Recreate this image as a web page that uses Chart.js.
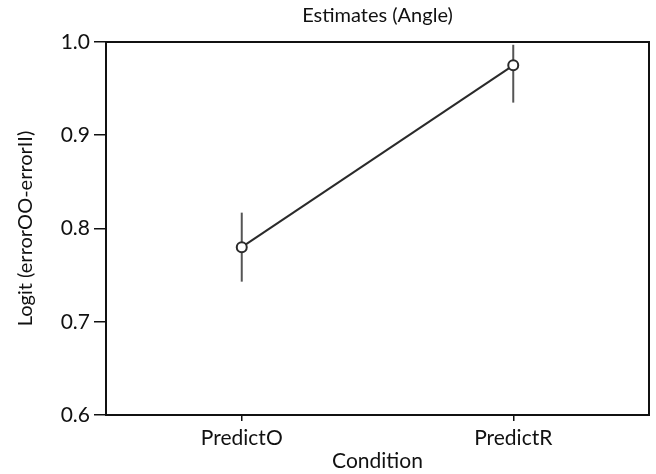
<!DOCTYPE html>
<html>
<head>
<meta charset="utf-8">
<script src="https://cdn.jsdelivr.net/npm/chart.js@4/dist/chart.umd.min.js"></script>
<style>
  html, body { margin: 0; padding: 0; background: #fff; }
  #wrap { width: 656px; height: 474px; }
</style>
</head>
<body>
<div id="wrap"><canvas id="chart" width="656" height="474"></canvas></div>
<script>
// data
const conditions = ['PredictO', 'PredictR'];
const estimates  = [0.780, 0.975];
const ciLow      = [0.743, 0.935];
const ciHigh     = [0.817, 0.997];
const yTicks     = [0.6, 0.7, 0.8, 0.9, 1.0];

const INK  = '#111';
const FONT = "Lato, 'Open Sans', sans-serif";

// box around the plot area (top + right sides too)
const frame = {
  id: 'frame',
  afterDatasetsDraw(chart) {
    const { ctx, chartArea: a } = chart;
    ctx.save();
    ctx.strokeStyle = INK;
    ctx.lineWidth = 2;
    ctx.strokeRect(a.left, a.top, a.right - a.left, a.bottom - a.top);
    ctx.restore();
  }
};

const errorSets = conditions.map((c, i) => ({
  type: 'line',
  data: [{ x: c, y: ciLow[i] }, { x: c, y: ciHigh[i] }],
  borderColor: '#555',
  borderWidth: 2,
  pointRadius: 0,
  order: 2,
}));

new Chart(document.getElementById('chart'), {
  type: 'line',
  data: {
    labels: conditions,
    datasets: [
      {
        data: estimates,
        borderColor: '#2a2a2a',
        borderWidth: 2,
        pointRadius: 5,
        pointBorderWidth: 2,
        pointBackgroundColor: '#fff',
        pointBorderColor: '#2a2a2a',
        order: 1,
      },
      ...errorSets,
    ],
  },
  plugins: [frame],
  options: {
    responsive: false,
    animation: false,
    layout: { padding: { left: 0, right: 2, top: 0, bottom: 0 } },
    plugins: {
      legend: { display: false },
      tooltip: { enabled: false },
      title: {
        display: true,
        text: 'Estimates (Angle)',
        fullSize: false,
        color: INK,
        font: { family: FONT, size: 20, weight: 'normal' },
        padding: { top: 4, bottom: 14 },
      },
    },
    scales: {
      x: {
        type: 'category',
        offset: true,
        afterFit: s => { s.height = 59; },
        grid: { offset: false, drawOnChartArea: false, tickLength: 6, color: INK, lineWidth: 1.5 },
        border: { display: false },
        ticks: { color: INK, padding: 5, font: { family: FONT, size: 21 } },
        title: {
          display: true, text: 'Condition', color: INK,
          font: { family: FONT, size: 21 }, padding: { top: 0, bottom: 0 },
        },
      },
      y: {
        min: yTicks[0],
        max: yTicks[yTicks.length - 1],
        afterFit: s => { s.width = 106; },
        afterBuildTicks: s => { s.ticks = yTicks.map(v => ({ value: v })); },
        grid: { drawOnChartArea: false, tickLength: 12, color: INK, lineWidth: 1.5 },
        border: { display: false },
        ticks: {
          color: INK, padding: 4,
          font: { family: FONT, size: 21 },
          callback: v => v.toFixed(1),
        },
        title: {
          display: true, text: 'Logit (errorOO-errorII)', color: INK,
          font: { family: FONT, size: 20 }, padding: { top: 14, bottom: 0 },
        },
      },
    },
  },
});
</script>
</body>
</html>
